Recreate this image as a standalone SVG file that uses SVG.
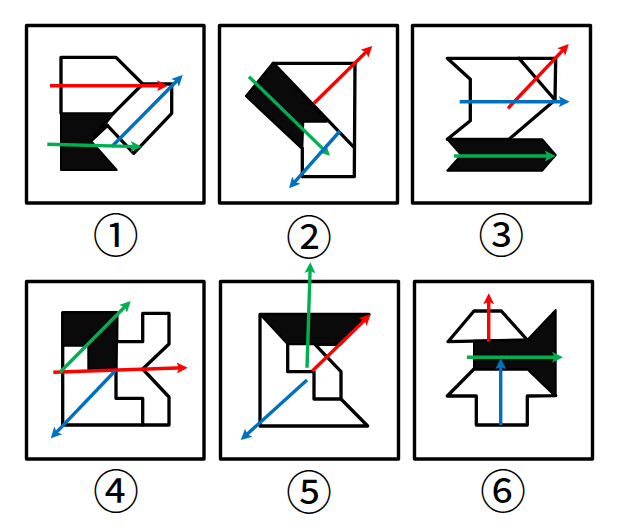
<svg xmlns="http://www.w3.org/2000/svg" width="617" height="529" viewBox="0 0 617 529">
<style>
.frame{fill:#fff;stroke:#000;stroke-width:3.4;stroke-linejoin:round}
.o{fill:#fff;stroke:#000;stroke-width:3.3;stroke-linejoin:round;stroke-linecap:round}
.l{fill:none;stroke:#000;stroke-width:3.3;stroke-linejoin:round;stroke-linecap:round}
.b{fill:#0a0a0a;stroke:#000;stroke-width:2;stroke-linejoin:round}
.r{stroke:#ff0000;stroke-width:3.4;fill:none;marker-end:url(#mr)}
.u{stroke:#0070c0;stroke-width:3.4;fill:none;marker-end:url(#mu)}
.g{stroke:#00b050;stroke-width:3.4;fill:none;marker-end:url(#mg)}
.t{font-family:"Noto Sans CJK SC","DejaVu Serif",serif;font-size:46px;text-anchor:middle;fill:#000}
</style>
<defs>
<marker id="mr" markerUnits="userSpaceOnUse" markerWidth="14" markerHeight="14" viewBox="0 0 14 14" refX="7" refY="7" orient="auto"><path d="M0,1.5L11,7L0,12.5L2.5,7Z" fill="#ff0000"/></marker>
<marker id="mu" markerUnits="userSpaceOnUse" markerWidth="14" markerHeight="14" viewBox="0 0 14 14" refX="7" refY="7" orient="auto"><path d="M0,1.5L11,7L0,12.5L2.5,7Z" fill="#0070c0"/></marker>
<marker id="mg" markerUnits="userSpaceOnUse" markerWidth="14" markerHeight="14" viewBox="0 0 14 14" refX="7" refY="7" orient="auto"><path d="M0,1.5L11,7L0,12.5L2.5,7Z" fill="#00b050"/></marker>
</defs>
<rect width="617" height="529" fill="#fff"/>
<g id="panel1">
<rect class="frame" x="26.5" y="25.5" width="177.5" height="177.5"/>
<polygon class="o" points="61,57.3 116,57.3 142.7,84 171.7,84 171.7,113.3 133.7,153.3 107.3,125.3 90.7,140.7 61,113.3"/>
<path class="l" d="M142.7,84L113.3,113.3"/>
<polygon class="b" points="61,113.3 113.3,113.3 90.7,140.7 116.7,170 61,170"/>
<path class="l" d="M113.3,113.3L90.7,140.7L107.3,125.3"/>
<text class="t" x="115.7" y="252">①</text>
</g>
<g id="panel2">
<rect class="frame" x="219.5" y="25.5" width="178" height="177.5"/>
<polygon class="o" points="273.3,63.3 355,63.3 354.3,176.7 302.3,176.7 302.3,148.3 246.7,96"/>
<path class="l" d="M273.3,63.3L353.3,146.7"/>
<polygon class="b" points="273.3,63.3 326.7,121.7 303.3,121.7 302.3,148.3 246.7,96"/>
<text class="t" x="309" y="254">②</text>
</g>
<g id="panel3">
<rect class="frame" x="412.5" y="25.5" width="178" height="177.5"/>
<polygon class="o" points="447.3,58.3 555.7,58.3 555,100 509,139.3 447.3,139.3 470.3,120.7 470.3,79.3"/>
<path class="l" d="M519,58.3L555,100"/>
<polygon class="b" points="447.3,139.3 542.3,139.3 555.7,155 542.3,170.7 447.3,170.7 461.3,155"/>
<text class="t" x="501.3" y="252">③</text>
</g>
<g id="panel4">
<rect class="frame" x="26.5" y="281.5" width="177.5" height="177.5"/>
<polygon class="o" points="62.7,312.7 116.7,312.7 116.7,341.7 142.7,341.7 142.7,313.3 169,313.3 169,344 142.7,369 169,397 169,425 62.7,425"/>
<path class="l" d="M116,370V398.3H142.7V425"/>
<polygon class="b" points="62.7,312.7 117.3,312.7 116.7,369.3 88.3,369.3 88.3,345.7 62.7,345.7"/>
<text class="t" x="116" y="508">④</text>
</g>
<g id="panel5">
<rect class="frame" x="220.5" y="281.5" width="178" height="177.5"/>
<polygon class="o" points="260,314.3 369,314.3 340,344.3 315,344.3 341,371.7 341,399 367.7,426 260,426"/>
<path class="l" d="M287.7,344.3V371.7H314V399H341"/>
<polygon class="b" points="260,314.3 369,314.3 340,344.3 287.7,344.3"/>
<text class="t" x="309" y="509">⑤</text>
</g>
<g id="panel6">
<rect class="frame" x="414.5" y="281.5" width="178" height="177.5"/>
<polygon class="o" points="448,341.7 474,311 501.3,311 527.3,340"/>
<polygon class="o" points="474,369 447.3,396 476.3,396 476.3,425 527.3,425 527.3,396 555.7,395.7 528,369"/>
<polygon class="b" points="474,340.7 527.3,340 555.7,310 555.7,395.7 528,369 474,369"/>
<text class="t" x="503" y="508">⑥</text>
</g>
<g id="connectors">
<path class="r" d="M50,85.7L164,85.7"/>
<path class="u" d="M111.7,146.7L179.9,77.8"/>
<path class="g" d="M47.3,144.3L137.7,146.6"/>
<path class="r" d="M314,103.3L369.4,48.8"/>
<path class="g" d="M249,76.7L327.1,152.9"/>
<path class="u" d="M340,131L291.7,185.3"/>
<path class="r" d="M508,108.3L566,46.9"/>
<path class="u" d="M459.7,101.7L565.7,101.7"/>
<path class="g" d="M454,156L551.7,156"/>
<path class="r" d="M53.3,372.3L183.7,367.8"/>
<path class="g" d="M60,372.3L127.9,303.8"/>
<path class="u" d="M115,371L53.5,435.4"/>
<path class="g" d="M307,367.7L310.2,266.3"/>
<path class="r" d="M312.3,371L367.8,317.1"/>
<path class="u" d="M307,380L243.7,437.3"/>
<path class="r" d="M488.7,341.7V297.3"/>
<path class="g" d="M467,357.3H559"/>
<path class="u" d="M500.7,425V362.3"/>
</g>
</svg>
